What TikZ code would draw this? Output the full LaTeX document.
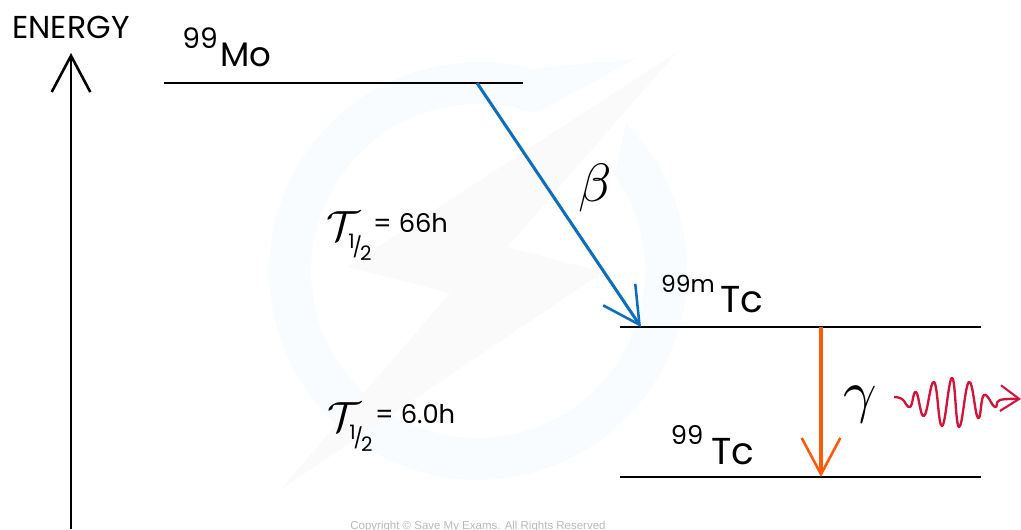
\documentclass[tikz,border=0pt]{standalone}
\usepackage{fontspec}
\usepackage{amsmath}
\usepackage{xcolor}
\usepackage{tikz}
\usetikzlibrary{positioning, arrows.meta}
\setmainfont{Poppins}
\newfontfamily\markfont{Liberation Sans}
\definecolor{betablue}{HTML}{0B6FBE}
\definecolor{gammaorange}{HTML}{FF5A0A}
\definecolor{wavered}{HTML}{D0143C}
\definecolor{ringblue}{HTML}{F8FCFE}
\definecolor{boltgrey}{HTML}{FAFAFA}
\newcommand{\fsize}[1]{\fontsize{#1}{#1}\selectfont}
\newcommand{\halfsub}{\fsize{17}\raisebox{0.3em}{1}\hspace{-0.1em}/\hspace{-0.1em}\raisebox{-0.3em}{2}}
\tikzset{
    energyline/.style={line width=2pt,black},
    textlabel/.style={inner sep=0pt,text=black},
    handtip/.style={-{Straight Barb[length=31pt,width=33pt,line width=2.2pt]}}
}

\begin{document}
\begin{tikzpicture}[x=0.03cm,y=-0.03cm,node distance=4pt]
    \useasboundingbox (0,0) rectangle (1021,529);
    \clip (0,0) rectangle (1021,529);

    % faint mark behind the levels
    \fill[ringblue] plot[domain=75:405,samples=90] ({478+209*cos(\x)},{271-209*sin(\x)})
        -- plot[domain=395:75,samples=90] ({478+167*cos(\x)},{271-167*sin(\x)})
        -- (537,113) -- (637,58) -- cycle;
    \fill[boltgrey] (677,52) -- (347,267) -- (450,293) -- (280,490) -- (603,272) -- (507,247) -- cycle;
    \node[textlabel,text=black!28,font=\markfont\fsize{9.8}] (mark) at (478,527) {Copyright © Save My Exams. All Rights Reserved};

    % levels
    \coordinate (moL) at (164,83);
    \coordinate (moR) at (523,83);
    \coordinate (beS) at (477,83);
    \coordinate (tcmL) at (620,327);
    \coordinate (tcmR) at (981,327);
    \coordinate (beE) at (641,327);
    \coordinate (gaS) at (821,327);
    \coordinate (tcL) at (620,477);
    \coordinate (tcR) at (981,477);
    \coordinate (gaE) at (821,477);
    \coordinate (enS) at (71,529);
    \coordinate (enE) at (71,53);
    \draw[energyline] (moL) -- (moR);
    \draw[energyline] (tcmL) -- (tcmR);
    \draw[energyline] (tcL) -- (tcR);

    % arrows
    \draw[handtip,line width=2pt,black] (enS) -- (enE);
    \draw[handtip,line width=2.6pt,betablue] (beS) -- (beE);
    \draw[handtip,line width=2.6pt,gammaorange] (gaS) -- (gaE);
    \draw[wavered,line width=2pt,line join=round,-{Straight Barb[length=16pt,width=22pt,line width=1.8pt]}]
        plot[smooth,tension=0.75] coordinates {(894,397) (902,399) (910,407) (916,392) (924,416) (934,382)
        (942,426) (952,378) (959,427) (969,382) (978,418) (984,395) (995,407) (1000,400) (1021,399)};

    % labels
    \node[textlabel,font=\fsize{27}] (energy) at (71,27) {ENERGY};
    \node[textlabel,font=\fsize{24}] (moNum) at (200,38) {99};
    \node[textlabel,font=\fsize{29}] (moName) at (246,55) {Mo};
    \node[textlabel,font=\fsize{20}] (tcmNum) at (688,284) {99m};
    \node[textlabel,font=\fsize{32}] (tcmName) at (742,300) {Tc};
    \node[textlabel,font=\fsize{22}] (tcNum) at (687,435) {99};
    \node[textlabel,font=\fsize{32}] (tcName) at (733,452) {Tc};
    \node[textlabel,scale=4.6] (beta) at (595,188) {$\beta$};
    \node[textlabel,scale=5] (gamma) at (860,405) {$\gamma$};
    \node[textlabel,scale=3.6] (tauMo) at (343,226) {$\mathcal{T}$};
    \node[textlabel] (subMo) at (360,247) {\halfsub};
    \node[textlabel,font=\fsize{22},anchor=west] (valMo) at (373,223) {= 66h};
    \node[textlabel,scale=3.6] (tauTc) at (344,417) {$\mathcal{T}$};
    \node[textlabel] (subTc) at (361,438) {\halfsub};
    \node[textlabel,font=\fsize{22},anchor=west] (valTc) at (375,414) {= 6.0h};
\end{tikzpicture}
\end{document}
